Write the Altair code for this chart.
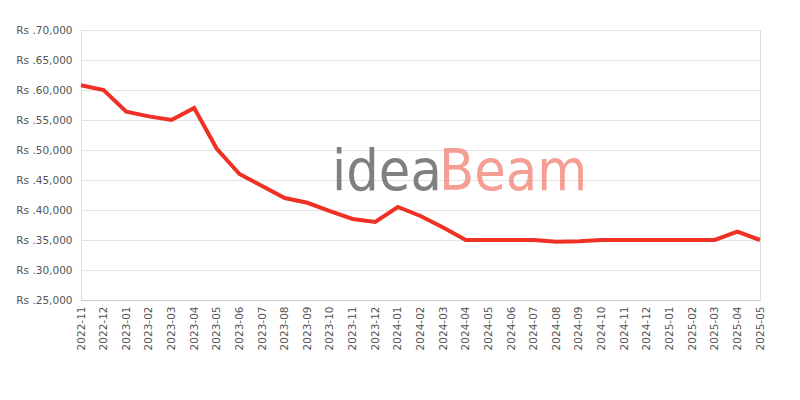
import altair as alt
import pandas as pd

months = ["2022-11","2022-12","2023-01","2023-02","2023-03","2023-04","2023-05","2023-06",
          "2023-07","2023-08","2023-09","2023-10","2023-11","2023-12","2024-01","2024-02",
          "2024-03","2024-04","2024-05","2024-06","2024-07","2024-08","2024-09","2024-10",
          "2024-11","2024-12","2025-01","2025-02","2025-03","2025-04","2025-05"]
prices = [60800, 60000, 56400, 55600, 55000, 57000, 50200, 46000,
          44000, 42000, 41200, 39800, 38500, 38000, 40500, 39000,
          37100, 35000, 35000, 35000, 35000, 34700, 34800, 35000,
          35000, 35000, 35000, 35000, 35000, 36400, 35000]
y_ticks = [25000, 30000, 35000, 40000, 45000, 50000, 55000, 60000, 65000, 70000]

df = pd.DataFrame({"month": months, "price": prices})

FONT = "DejaVu Sans"
LABEL = "#555555"

base = alt.Chart(df)

line = base.mark_line(color="#ee3124", strokeWidth=4, strokeJoin="miter").encode(
    x=alt.X("month:O", sort=months, title=None,
            scale=alt.Scale(type="point", padding=0),
            axis=alt.Axis(labelAngle=270, labelFont=FONT, labelFontSize=10.5,
                          labelColor=LABEL, ticks=False, domainColor="#cccccc",
                          labelPadding=6, grid=False)),
    y=alt.Y("price:Q", title=None,
            scale=alt.Scale(domain=[25000, 70000], nice=False, zero=False),
            axis=alt.Axis(values=y_ticks, labelExpr="'Rs .' + format(datum.value, ',')",
                          labelFont=FONT, labelFontSize=10.5, labelColor=LABEL,
                          ticks=False, domainColor="#dddddd", gridColor="#e3e3e3",
                          labelPadding=9)),
)

wm1 = alt.Chart(pd.DataFrame({"t": ["idea"]})).mark_text(
    font="DejaVu Sans Condensed", fontSize=57, color="#7a7a7a", opacity=0.95,
    align="left", baseline="alphabetic").encode(
    text="t:N", x=alt.value(251), y=alt.value(160))
wm2 = alt.Chart(pd.DataFrame({"t": ["Beam"]})).mark_text(
    font="DejaVu Sans Condensed", fontSize=57, color="#f5998e", opacity=0.95,
    align="left", baseline="alphabetic").encode(
    text="t:N", x=alt.value(358), y=alt.value(160))

chart = alt.layer(wm1, wm2, line).properties(
    width=679, height=270,
    autosize=alt.AutoSizeParams(type="none"),
    padding={"left": 73, "top": 22, "right": 30, "bottom": 92},
).configure_view(stroke="#dddddd").configure(background="white")

chart.save("out.html", embed_options={"renderer": "svg", "actions": False})
